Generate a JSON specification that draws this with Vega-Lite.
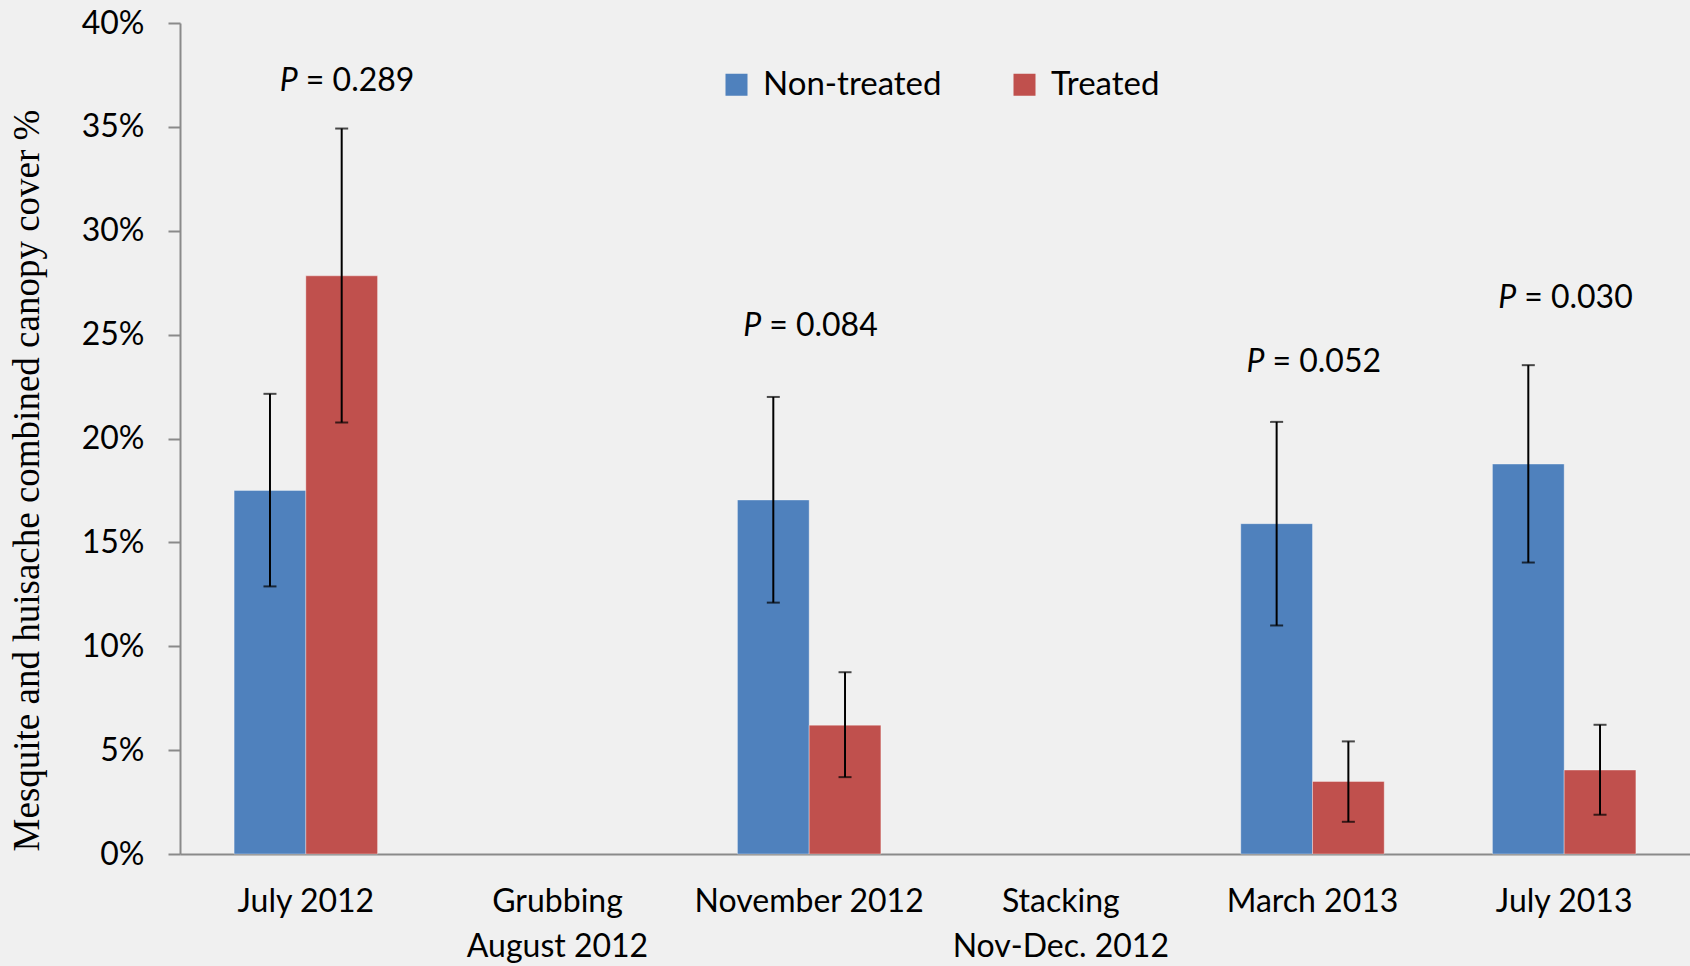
{
  "$schema": "https://vega.github.io/schema/vega-lite/v6.json",
  "autosize": "none",
  "width": 1510,
  "height": 831,
  "padding": {"left": 180, "top": 23, "right": 0, "bottom": 112},
  "background": "#f0f0f0",
  "config": {
    "view": {"stroke": null},
    "font": "Lato",
    "axis": {
      "grid": false,
      "domainColor": "#8a8a8a",
      "domainWidth": 2,
      "tickColor": "#8a8a8a",
      "tickWidth": 2,
      "labelFont": "Lato",
      "labelFontSize": 32,
      "labelColor": "#000000",
      "labelLimit": 0
    },
    "axisX": {"ticks": false, "labelAngle": 0, "labelPadding": 32, "labelLineHeight": 45},
    "axisY": {
      "tickSize": 12,
      "labelPadding": 24,
      "titleFont": "Liberation Serif",
      "titleFontSize": 37,
      "titleFontWeight": "normal",
      "titleColor": "#000000",
      "titleAngle": 270,
      "titleAlign": "center",
      "titleBaseline": "alphabetic",
      "titleX": -142,
      "titleY": 457
    }
  },
  "datasets": {
    "cover": [
      {"date": "July 2012", "series": "Non-treated", "mean": 17.5, "lo": 12.88, "hi": 22.15},
      {"date": "July 2012", "series": "Treated", "mean": 27.83, "lo": 20.77, "hi": 34.92},
      {"date": "November 2012", "series": "Non-treated", "mean": 17.04, "lo": 12.1, "hi": 22.0},
      {"date": "November 2012", "series": "Treated", "mean": 6.2, "lo": 3.7, "hi": 8.75},
      {"date": "March 2013", "series": "Non-treated", "mean": 15.9, "lo": 11.0, "hi": 20.8},
      {"date": "March 2013", "series": "Treated", "mean": 3.49, "lo": 1.55, "hi": 5.42},
      {"date": "July 2013", "series": "Non-treated", "mean": 18.77, "lo": 14.03, "hi": 23.53},
      {"date": "July 2013", "series": "Treated", "mean": 4.04, "lo": 1.89, "hi": 6.22}
    ],
    "pvalues": [
      {"date": "July 2012", "p": "= 0.289", "at": 36.75},
      {"date": "November 2012", "p": "= 0.084", "at": 24.95},
      {"date": "March 2013", "p": "= 0.052", "at": 23.22},
      {"date": "July 2013", "p": "= 0.030", "at": 26.29}
    ]
  },
  "layer": [
    {
      "data": {"name": "cover"},
      "mark": {"type": "bar", "stroke": "#ffffff", "strokeOpacity": 0.35, "strokeWidth": 1},
      "encoding": {
        "x": {
          "field": "date",
          "type": "nominal",
          "title": null,
          "sort": null,
          "scale": {
            "domain": ["July 2012", "Grubbing\nAugust 2012", "November 2012", "Stacking\nNov-Dec. 2012", "March 2013", "July 2013"],
            "paddingInner": 0.43,
            "paddingOuter": 0.215
          },
          "axis": {"labelExpr": "split(datum.label, '\\n')"}
        },
        "xOffset": {
          "field": "series",
          "type": "nominal",
          "scale": {"domain": ["Non-treated", "Treated"], "paddingInner": 0, "paddingOuter": 0}
        },
        "y": {
          "field": "mean",
          "type": "quantitative",
          "title": "Mesquite and huisache combined canopy cover %",
          "scale": {"domain": [0, 40], "nice": false},
          "axis": {"values": [0, 5, 10, 15, 20, 25, 30, 35, 40], "labelExpr": "datum.value + '%'"}
        },
        "color": {
          "field": "series",
          "type": "nominal",
          "scale": {"domain": ["Non-treated", "Treated"], "range": ["#4F81BD", "#C0504D"]},
          "legend": {
            "title": null,
            "orient": "none",
            "direction": "horizontal",
            "legendX": 540,
            "legendY": 45,
            "padding": 0,
            "symbolType": "square",
            "symbolSize": 484,
            "symbolStrokeWidth": 0,
            "symbolOpacity": 1,
            "labelFont": "Lato",
            "labelFontSize": 33,
            "labelColor": "#000000",
            "labelLimit": 0,
            "labelOffset": 10,
            "columnPadding": 66
          }
        }
      }
    },
    {
      "data": {"name": "cover"},
      "mark": {"type": "rule", "color": "#000000", "strokeWidth": 2},
      "encoding": {
        "x": {"field": "date", "type": "nominal", "title": null, "sort": null},
        "xOffset": {"field": "series", "type": "nominal"},
        "y": {"field": "lo", "type": "quantitative", "title": "Mesquite and huisache combined canopy cover %"},
        "y2": {"field": "hi"}
      }
    },
    {
      "data": {"name": "cover"},
      "mark": {"type": "tick", "color": "#000000", "thickness": 2, "size": 13},
      "encoding": {
        "x": {"field": "date", "type": "nominal", "title": null, "sort": null},
        "xOffset": {"field": "series", "type": "nominal"},
        "y": {"field": "lo", "type": "quantitative", "title": "Mesquite and huisache combined canopy cover %"}
      }
    },
    {
      "data": {"name": "cover"},
      "mark": {"type": "tick", "color": "#000000", "thickness": 2, "size": 13},
      "encoding": {
        "x": {"field": "date", "type": "nominal", "title": null, "sort": null},
        "xOffset": {"field": "series", "type": "nominal"},
        "y": {"field": "hi", "type": "quantitative", "title": "Mesquite and huisache combined canopy cover %"}
      }
    },
    {
      "data": {"name": "pvalues"},
      "transform": [{"filter": "datum.date === 'July 2012'"}],
      "mark": {"type": "text", "text": "P", "font": "Lato", "fontSize": 32, "fontStyle": "italic", "align": "left", "baseline": "alphabetic", "dx": -26, "color": "#000000"},
      "encoding": {
        "x": {"field": "date", "type": "nominal", "title": null, "sort": null},
        "y": {"field": "at", "type": "quantitative", "title": "Mesquite and huisache combined canopy cover %"}
      }
    },
    {
      "data": {"name": "pvalues"},
      "transform": [{"filter": "datum.date === 'July 2012'"}],
      "mark": {"type": "text", "font": "Lato", "fontSize": 32, "align": "left", "baseline": "alphabetic", "dx": 0, "color": "#000000"},
      "encoding": {
        "x": {"field": "date", "type": "nominal", "title": null, "sort": null},
        "y": {"field": "at", "type": "quantitative", "title": "Mesquite and huisache combined canopy cover %"},
        "text": {"field": "p"}
      }
    },
    {
      "data": {"name": "pvalues"},
      "transform": [{"filter": "datum.date !== 'July 2012'"}],
      "mark": {"type": "text", "text": "P", "font": "Lato", "fontSize": 32, "fontStyle": "italic", "align": "left", "baseline": "alphabetic", "dx": -66, "color": "#000000"},
      "encoding": {
        "x": {"field": "date", "type": "nominal", "title": null, "sort": null},
        "y": {"field": "at", "type": "quantitative", "title": "Mesquite and huisache combined canopy cover %"}
      }
    },
    {
      "data": {"name": "pvalues"},
      "transform": [{"filter": "datum.date !== 'July 2012'"}],
      "mark": {"type": "text", "font": "Lato", "fontSize": 32, "align": "left", "baseline": "alphabetic", "dx": -40, "color": "#000000"},
      "encoding": {
        "x": {"field": "date", "type": "nominal", "title": null, "sort": null},
        "y": {"field": "at", "type": "quantitative", "title": "Mesquite and huisache combined canopy cover %"},
        "text": {"field": "p"}
      }
    }
  ]
}
